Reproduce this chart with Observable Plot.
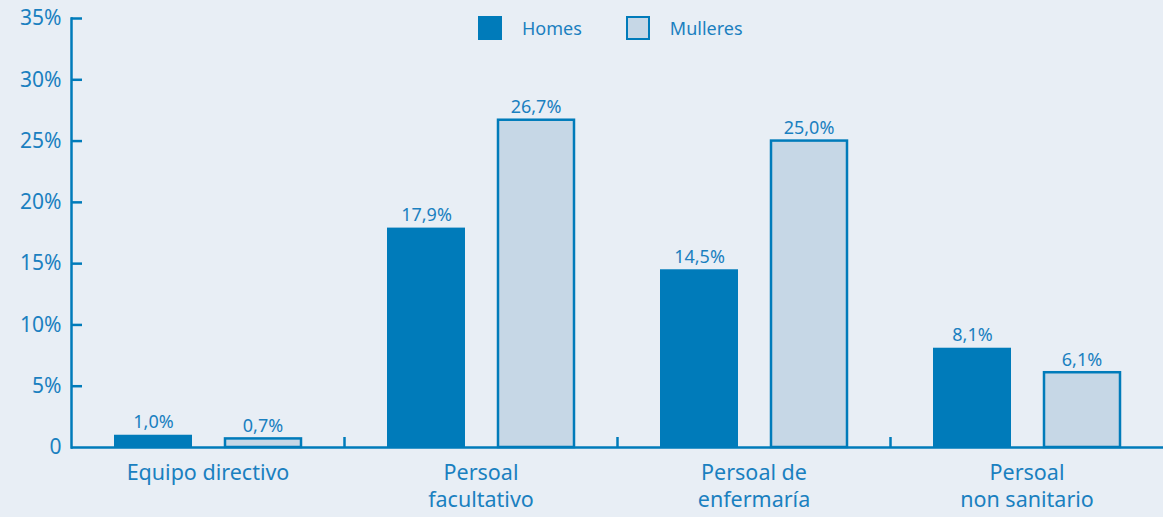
<!DOCTYPE html>
<html><head><meta charset="utf-8">
<script src="https://cdn.jsdelivr.net/npm/d3@7"></script>
<script src="https://cdn.jsdelivr.net/npm/@observablehq/plot@0.6"></script>
<style>
body{margin:0;background:#e8eef5;}
#wrap{position:relative;width:1163px;height:517px;font-family:"Noto Sans",sans-serif;}
.legend{position:absolute;top:16px;left:478px;display:flex;align-items:center;color:#1b80c0;font-size:18px;height:24px;}
.sw{width:24px;height:24px;box-sizing:border-box;}
</style></head><body><div id="wrap"></div>
<script>
const categories = ["Equipo directivo","Persoal facultativo","Persoal de enfermaría","Persoal non sanitario"];
const categoryLabels = ["Equipo directivo","Persoal\nfacultativo","Persoal de\nenfermaría","Persoal\nnon sanitario"];
const homes = [1.0,17.9,14.5,8.1];
const mulleres = [0.7,26.7,25.0,6.1];
const yTicks = [0,5,10,15,20,25,30,35];
const series = ["Homes","Mulleres"];

const blue = "#007bba", light = "#c6d7e6", txt = "#1a80c0";
const data = categories.map((c,i)=>({cat:c, homes:homes[i], mulleres:mulleres[i]}));
const fmt = v => v.toFixed(1).replace(".", ",") + "%";
const W = 1163, H = 517, ML = 71, MR = 0, MT = 18, MB = 70;
const bw = (W - ML - MR) / categories.length;
const plotH = H - MT - MB;

const chart = Plot.plot({
  width: W, height: H,
  marginLeft: ML, marginRight: MR, marginTop: MT, marginBottom: MB,
  style: {background: "transparent", fontFamily: "'Noto Sans', sans-serif", color: txt},
  x: {domain: categories, padding: 0, label: null},
  y: {domain: [0, 35], label: null},
  marks: [
    Plot.barY(data, {x: "cat", y: "homes", fill: blue, insetLeft: 43, insetRight: 152}),
    Plot.barY(data, {x: "cat", y: "mulleres", fill: light, stroke: blue, strokeWidth: 2.5, insetLeft: 154, insetRight: 43}),
    Plot.text(data, {x: "cat", y: "homes", text: d => fmt(d.homes), dx: -54.5, dy: -7, lineAnchor: "bottom", fontSize: 18, fill: txt}),
    Plot.text(data, {x: "cat", y: "mulleres", text: d => fmt(d.mulleres), dx: 55, dy: -7, lineAnchor: "bottom", fontSize: 18, fill: txt}),
    Plot.ruleY([0], {stroke: blue, strokeWidth: 2.5}),
    Plot.frame({anchor: "left", stroke: blue, strokeWidth: 2.5}),
    Plot.tickY(yTicks.slice(1), {y: d => d, stroke: blue, strokeWidth: 2.5, insetRight: (W - ML - MR) - 11}),
    Plot.tickX(categories.slice(1), {x: d => d, dx: -bw / 2, stroke: blue, strokeWidth: 2.5, insetTop: plotH - 10}),
    Plot.axisY(yTicks, {tickSize: 0, tickPadding: 10, fontSize: 21, fill: txt, tickFormat: d => d === 0 ? "0" : d + "%", label: null}),
    Plot.axisX({tickSize: 0, tickPadding: 14, fontSize: 21.5, lineHeight: 1.24, fill: txt, tickFormat: d => categoryLabels[categories.indexOf(d)], label: null})
  ]
});

const wrap = document.getElementById("wrap");
wrap.appendChild(chart);
const leg = document.createElement("div");
leg.className = "legend";
series.forEach((s, i) => {
  const sw = document.createElement("div");
  sw.className = "sw";
  sw.style.background = i === 0 ? blue : light;
  sw.style.border = i === 0 ? "none" : `2.5px solid ${blue}`;
  sw.style.marginRight = "20px";
  const t = document.createElement("span");
  t.textContent = s;
  t.style.marginRight = i === 0 ? "44px" : "0";
  leg.appendChild(sw); leg.appendChild(t);
});
wrap.appendChild(leg);
</script></body></html>
